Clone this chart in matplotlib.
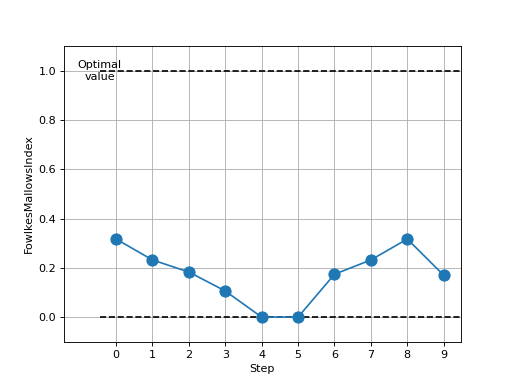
import matplotlib
matplotlib.use("Agg")
import matplotlib.pyplot as plt

steps = [0, 1, 2, 3, 4, 5, 6, 7, 8, 9]
scores = [0.317, 0.232, 0.183, 0.106, 0.0, 0.0, 0.174, 0.232, 0.317, 0.170]
optimal = 1.0
worst = 0.0

fig, ax = plt.subplots(figsize=(6.4, 4.8), dpi=80)

ax.hlines(optimal, -0.45, 9.5, colors='k', linestyles='--')
ax.hlines(worst, -0.45, 9.5, colors='k', linestyles='--')
ax.text(-0.45, optimal, 'Optimal\nvalue', ha='center', va='center')

ax.plot(steps, scores, 'o-', color='C0', markersize=10, zorder=3)

ax.set_xticks(steps)
ax.set_xlim(-1.43, 9.47)
ax.set_ylim(-0.1, 1.1)
ax.set_xlabel('Step')
ax.set_ylabel('FowlkesMallowsIndex')
ax.grid(True)

fig.savefig('out.png')
